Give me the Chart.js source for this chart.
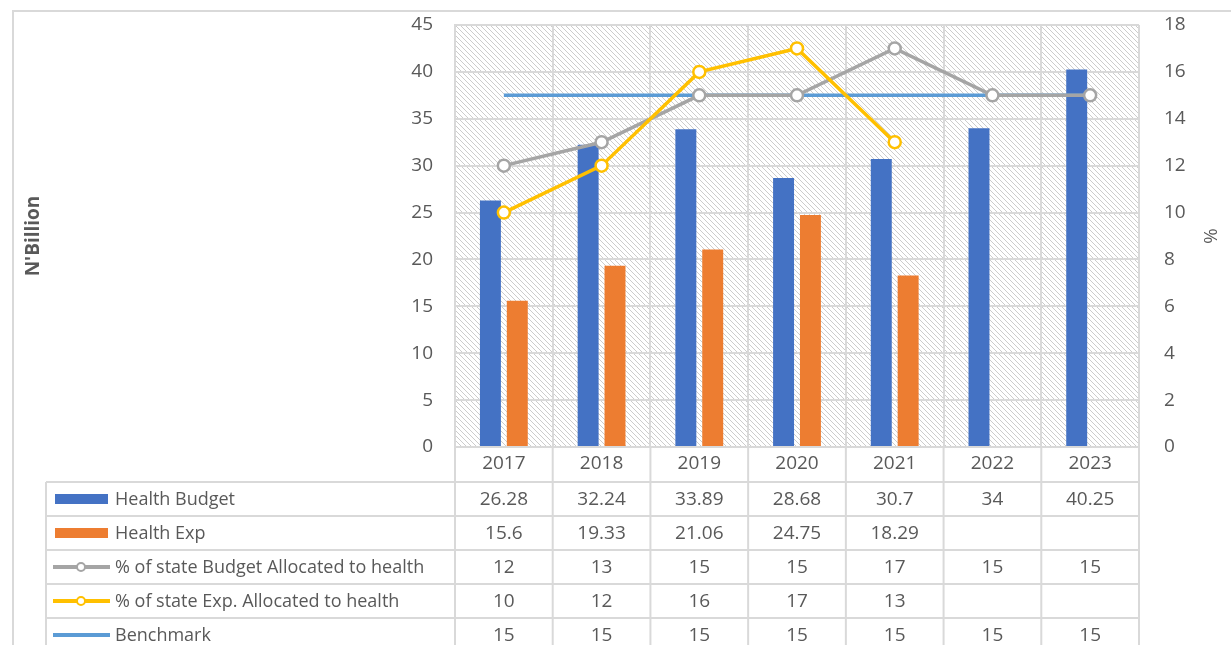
<!DOCTYPE html>
<html>
<head>
<meta charset="utf-8">
<script src="https://cdn.jsdelivr.net/npm/chart.js@4.4.1/dist/chart.umd.min.js"></script>
<style>
html, body { margin: 0; padding: 0; background: #fff; }
#wrap { position: relative; width: 1231px; height: 645px; overflow: hidden; }
</style>
</head>
<body>
<div id="wrap"><canvas id="myChart" width="1231" height="645"></canvas></div>
<script>
// data
const years = ['2017', '2018', '2019', '2020', '2021', '2022', '2023'];
const healthBudget = [26.28, 32.24, 33.89, 28.68, 30.7, 34, 40.25];
const healthExp = [15.6, 19.33, 21.06, 24.75, 18.29, null, null];
const pctBudget = [12, 13, 15, 15, 17, 15, 15];
const pctExp = [10, 12, 16, 17, 13, null, null];
const benchmark = [15, 15, 15, 15, 15, 15, 15];

const names = ['Health Budget', 'Health Exp', '% of state Budget Allocated to health', '% of state Exp. Allocated to health', 'Benchmark'];
const colors = ['#4472C4', '#ED7D31', '#A5A5A5', '#FFC000', '#5B9BD5'];

const gridCol = '#d9d9d9';
const textCol = '#595959';
const FONT = "'Open Sans', sans-serif";

Chart.defaults.font.family = FONT;
Chart.defaults.color = textCol;

function makeHatch(ctx) {
    const c = document.createElement('canvas');
    c.width = 5; c.height = 5;
    const g = c.getContext('2d');
    g.strokeStyle = '#cccccc';
    g.lineWidth = 1;
    g.beginPath();
    g.moveTo(-1, -1); g.lineTo(6, 6);
    g.moveTo(-1, 4); g.lineTo(1, 6);
    g.moveTo(4, -1); g.lineTo(6, 1);
    g.stroke();
    return ctx.createPattern(c, 'repeat');
}

// background hatch + frame, and the data table under the plot
const tablePlugin = {
    id: 'dataTable',
    beforeDraw(chart) {
        const ctx = chart.ctx;
        const a = chart.chartArea;
        ctx.save();
        ctx.fillStyle = makeHatch(ctx);
        ctx.fillRect(a.left, a.top, a.right - a.left, a.bottom - a.top);
        ctx.strokeStyle = gridCol;
        ctx.lineWidth = 2;
        ctx.beginPath();
        ctx.moveTo(13, 645); ctx.lineTo(13, 11); ctx.lineTo(1231, 11);
        ctx.stroke();
        ctx.restore();
    },
    afterDraw(chart) {
        const ctx = chart.ctx;
        const a = chart.chartArea;
        const xs = chart.scales.x;
        const half = (xs.getPixelForValue(1) - xs.getPixelForValue(0)) / 2;
        const tableLeft = 46;
        const top = chart.scales.x.bottom;
        const rowH = 34;
        const rows = [healthBudget, healthExp, pctBudget, pctExp, benchmark];

        ctx.save();
        ctx.strokeStyle = gridCol;
        ctx.lineWidth = 2;
        ctx.beginPath();
        for (let r = 0; r <= rows.length; r++) {
            const y = top + r * rowH;
            ctx.moveTo(tableLeft, y); ctx.lineTo(a.right, y);
        }
        ctx.moveTo(tableLeft, top); ctx.lineTo(tableLeft, 645);
        for (let i = 0; i <= years.length; i++) {
            const x = xs.getPixelForValue(i) - half;
            ctx.moveTo(x, a.bottom); ctx.lineTo(x, 645);
        }
        ctx.stroke();

        ctx.textBaseline = 'middle';
        for (let r = 0; r < rows.length; r++) {
            const yc = top + r * rowH + rowH / 2;
            // legend key
            if (r < 2) {
                ctx.fillStyle = colors[r];
                ctx.fillRect(55, yc - 5, 53, 10);
            } else {
                ctx.strokeStyle = colors[r];
                ctx.lineWidth = 4;
                ctx.beginPath(); ctx.moveTo(53, yc); ctx.lineTo(110, yc); ctx.stroke();
                if (r < 4) {
                    ctx.fillStyle = '#fff';
                    ctx.lineWidth = 2;
                    ctx.beginPath(); ctx.arc(81, yc, 4, 0, Math.PI * 2); ctx.fill(); ctx.stroke();
                }
            }
            ctx.fillStyle = textCol;
            ctx.textAlign = 'left';
            ctx.font = '18px ' + FONT;
            ctx.fillText(names[r], 115, yc + 1);
            ctx.textAlign = 'center';
            ctx.font = '19px ' + FONT;
            rows[r].forEach(function (v, i) {
                if (v === null) return;
                ctx.fillText(String(v), xs.getPixelForValue(i), yc + 1);
            });
        }
        ctx.restore();
    }
};

// tick padding would otherwise push the plot top down
function fitVertical(width) {
    return function (scale) {
        scale.width = width;
        scale.paddingTop = 12;
        scale.paddingBottom = 12;
    };
}

const ctx = document.getElementById('myChart').getContext('2d');
const myChart = new Chart(ctx, {
    type: 'bar',
    data: {
        labels: years,
        datasets: [
            {
                type: 'line', label: names[3], data: pctExp, yAxisID: 'y2', order: 1,
                borderColor: colors[3], borderWidth: 3.5, pointRadius: 6, pointBorderWidth: 2.5,
                pointBackgroundColor: '#fff', pointBorderColor: colors[3], tension: 0, spanGaps: false
            },
            {
                type: 'line', label: names[2], data: pctBudget, yAxisID: 'y2', order: 2,
                borderColor: colors[2], borderWidth: 3.5, pointRadius: 6, pointBorderWidth: 2.5,
                pointBackgroundColor: '#fff', pointBorderColor: colors[2], tension: 0
            },
            {
                type: 'line', label: names[4], data: benchmark, yAxisID: 'y2', order: 3,
                borderColor: colors[4], borderWidth: 3.5, pointRadius: 0, tension: 0
            },
            {
                label: names[0], data: healthBudget, yAxisID: 'y', order: 4,
                backgroundColor: colors[0], barPercentage: 0.78, categoryPercentage: 0.55
            },
            {
                label: names[1], data: healthExp, yAxisID: 'y', order: 5,
                backgroundColor: colors[1], barPercentage: 0.78, categoryPercentage: 0.55
            }
        ]
    },
    options: {
        responsive: false,
        animation: false,
        layout: { padding: { left: 0, right: 0, top: 25, bottom: 163 } },
        plugins: { legend: { display: false }, tooltip: { enabled: false } },
        scales: {
            x: {
                grid: { color: gridCol, lineWidth: 2, drawTicks: false, offset: true },
                border: { color: gridCol, width: 2 },
                ticks: { padding: 5, color: textCol, font: { size: 19 } },
                afterFit(scale) { scale.height = 35; }
            },
            y: {
                position: 'left', min: 0, max: 45,
                grid: { color: gridCol, lineWidth: 2, drawTicks: false },
                border: { color: gridCol, width: 2 },
                ticks: { stepSize: 5, padding: 22, color: textCol, font: { size: 19 } },
                title: { display: true, text: "N'Billion", color: textCol, font: { size: 19, weight: 'bold' }, padding: { top: 22 } },
                afterFit: fitVertical(455)
            },
            y2: {
                position: 'right', min: 0, max: 18,
                grid: { display: false, drawTicks: false },
                border: { display: false },
                ticks: { stepSize: 2, padding: 25, color: textCol, font: { size: 19 } },
                title: { display: true, text: '%', color: textCol, font: { size: 19 }, padding: { top: 10 } },
                afterFit: fitVertical(92)
            }
        }
    },
    plugins: [tablePlugin]
});
</script>
</body>
</html>
